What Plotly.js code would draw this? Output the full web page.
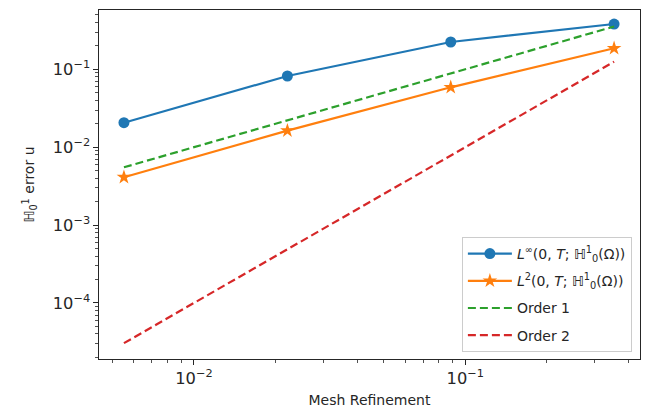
<!DOCTYPE html>
<html>
<head>
<meta charset="utf-8">
<script src="https://cdn.plot.ly/plotly-3.0.1.min.js"></script>
<style>html,body{margin:0;padding:0;background:#fff;}#chart{width:645px;height:419px;}</style>
</head>
<body>
<div id="chart"></div>
<script>
// Mesh sizes
const meshSize = [0.00552, 0.0221, 0.0884, 0.3536];
// Errors
const errLinf = [0.0206, 0.082, 0.224, 0.381];
const errL2 = [0.00412, 0.0163, 0.0587, 0.186];
// Reference slopes
const order1 = [0.00552, 0.0221, 0.0884, 0.3536];
const order2 = [0.0000305, 0.000488, 0.0078, 0.125];

const names = [
  '<i>L</i><sup>∞</sup>(0, <i>T</i>; ℍ<sup>1</sup><sub>0</sub>(Ω))',
  '<i>L</i><sup>2</sup>(0, <i>T</i>; ℍ<sup>1</sup><sub>0</sub>(Ω))',
  'Order 1',
  'Order 2'
];

const traces = [
  {x: meshSize, y: errLinf, name: names[0], legendgroup: 'a', mode: 'lines+markers',
   line: {color: '#1f77b4', width: 2.2}, marker: {symbol: 'circle', size: 11, color: '#1f77b4'}},
  {x: meshSize, y: errL2, name: names[1], legendgroup: 'b', mode: 'lines+markers',
   line: {color: '#ff7f0e', width: 2.2}, marker: {symbol: 'star', size: 11, color: '#ff7f0e'}},
  {x: meshSize, y: order1, name: names[2], legendgroup: 'c', mode: 'lines',
   line: {color: '#2ca02c', width: 2.2, dash: '8px,4px'}},
  {x: meshSize, y: order2, name: names[3], legendgroup: 'd', mode: 'lines',
   line: {color: '#d62728', width: 2.2, dash: '8px,4px'}}
];

const axisCommon = {
  type: 'log', dtick: 1, exponentformat: 'power', showexponent: 'all',
  showgrid: false, zeroline: false, showline: true, mirror: true,
  linecolor: '#262626', linewidth: 1.2, ticks: 'outside', ticklen: 5, tickwidth: 1,
  tickcolor: '#262626', tickfont: {family: 'DejaVu Sans', size: 13, color: '#262626'},
  minor: {ticks: 'outside', ticklen: 3, tickwidth: 0.8, tickcolor: '#262626', showgrid: false}
};

const layout = {
  width: 645, height: 419,
  margin: {l: 99, r: 5, t: 10, b: 60},
  paper_bgcolor: '#fff', plot_bgcolor: '#fff',
  font: {family: 'DejaVu Sans', size: 13, color: '#262626'},
  xaxis: Object.assign({}, axisCommon, {
    range: [-2.350, -0.356],
    title: {text: 'Mesh Refinement', font: {size: 14, color: '#262626'}, standoff: 8}
  }),
  yaxis: Object.assign({}, axisCommon, {
    range: [-4.719, -0.239],
    title: {text: 'ℍ<sub>0</sub><sup>1</sup> error u', font: {size: 14, color: '#262626'}, standoff: 14}
  }),
  showlegend: true,
  legend: {
    x: 0.985, y: 0.02, xanchor: 'right', yanchor: 'bottom',
    bgcolor: 'rgba(255,255,255,0.8)', bordercolor: '#cccccc', borderwidth: 1,
    font: {family: 'DejaVu Sans', size: 14, color: '#262626'},
    itemwidth: 44, tracegroupgap: 6
  }
};

Plotly.newPlot('chart', traces, layout, {displayModeBar: false, staticPlot: true});
</script>
</body>
</html>
